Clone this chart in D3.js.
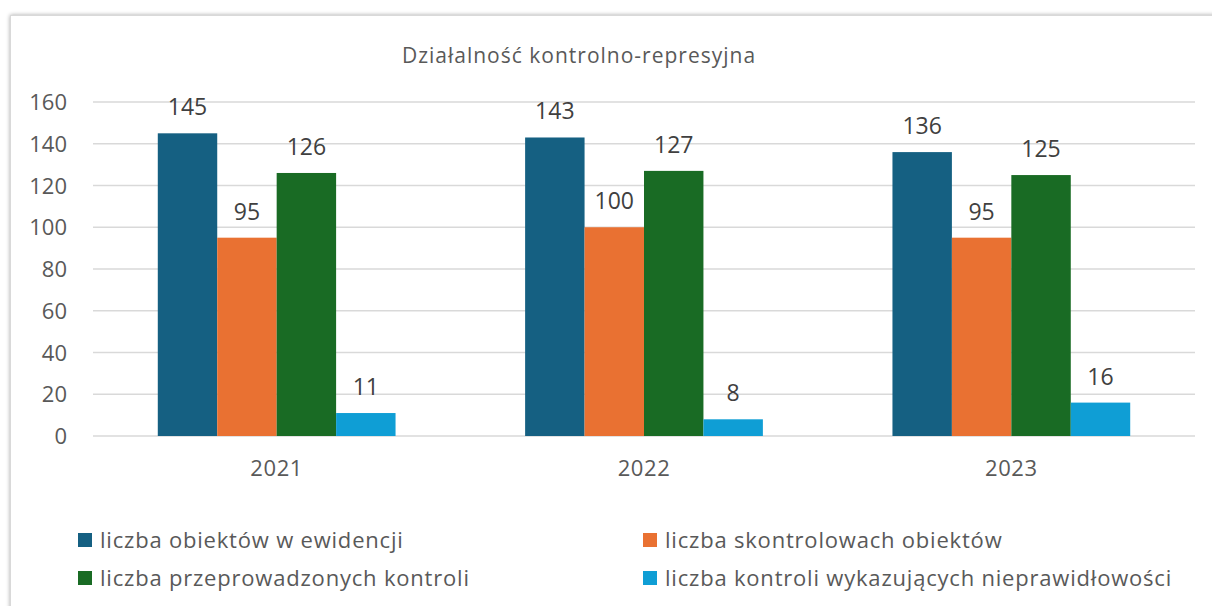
<!DOCTYPE html>
<html><head><meta charset="utf-8">
<script src="https://cdn.jsdelivr.net/npm/d3@7"></script>
<style>
html,body{margin:0;padding:0;background:#fff;}
svg{display:block;font-family:"Open Sans",sans-serif;}
</style></head>
<body>
<svg id="c" width="1212" height="606"></svg>
<script>
const title = "Działalność kontrolno-represyjna";
const years = ["2021","2022","2023"];
const seriesNames = ["liczba obiektów w ewidencji","liczba skontrolowach obiektów","liczba przeprowadzonych kontroli","liczba kontroli wykazujących nieprawidłowości"];
const obiekty = [145,143,136];
const skontrolowane = [95,100,95];
const kontrole = [126,127,125];
const nieprawidlowosci = [11,8,16];
const yTicks = [0,20,40,60,80,100,120,140,160];
const colors = ["#156082","#E97132","#196B24","#0F9ED5"];

const seriesValues = [obiekty, skontrolowane, kontrole, nieprawidlowosci];
const svg = d3.select("#c");
const FF = "'Open Sans',sans-serif";

// frame with soft shadow
const defs = svg.append("defs");
const f = defs.append("filter").attr("id","sh").attr("x","-5%").attr("y","-5%").attr("width","110%").attr("height","110%");
f.append("feGaussianBlur").attr("in","SourceAlpha").attr("stdDeviation",2);
f.append("feComponentTransfer").append("feFuncA").attr("type","linear").attr("slope",0.35);
const fm = f.append("feMerge"); fm.append("feMergeNode"); fm.append("feMergeNode").attr("in","SourceGraphic");
svg.append("rect").attr("x",10.5).attr("y",15.5).attr("width",1230).attr("height",620)
  .attr("fill","#fff").attr("stroke","#d9d9d9").attr("filter","url(#sh)");

const pLeft = 93, pRight = 1195, pTop = 102, pBottom = 436;
const y = d3.scaleLinear().domain([0,160]).range([pBottom, pTop]);
const x0 = d3.scaleBand().domain(years).range([pLeft,pRight]).paddingInner(0).paddingOuter(0);
const x1 = d3.scaleBand().domain(d3.range(4)).range([0,x0.bandwidth()]).paddingInner(0).paddingOuter(1.09);

// gridlines
svg.append("g").selectAll("line").data(yTicks).join("line")
  .attr("x1",pLeft).attr("x2",pRight).attr("y1",d=>y(d)).attr("y2",d=>y(d))
  .attr("stroke","#d9d9d9").attr("stroke-width",1.3);

// y axis labels
const yAxis = d3.axisLeft(y).tickValues(yTicks).tickSize(0).tickPadding(0);
const ga = svg.append("g").attr("transform",`translate(67,0)`).call(yAxis);
ga.select(".domain").remove();
ga.selectAll("text").attr("font-size",22).attr("fill","#595959").attr("font-family",FF).attr("dy","0.35em");

// x axis labels
const xAxis = d3.axisBottom(x0).tickSize(0).tickPadding(0);
const gx = svg.append("g").attr("transform",`translate(0,${pBottom+24})`).call(xAxis);
gx.select(".domain").remove();
gx.selectAll("text").attr("font-size",22).attr("letter-spacing",0.6).attr("fill","#595959").attr("font-family",FF);

// bars
const groups = svg.append("g").selectAll("g").data(years).join("g")
  .attr("transform",d=>`translate(${x0(d)},0)`);
groups.each(function(yr, yi){
  const g = d3.select(this);
  const vals = seriesValues.map((s,si)=>({si, v:s[yi]}));
  g.selectAll("rect").data(vals).join("rect")
    .attr("x",d=>x1(d.si)).attr("width",x1.bandwidth())
    .attr("y",d=>y(d.v)).attr("height",d=>y(0)-y(d.v))
    .attr("fill",d=>colors[d.si]);
  g.selectAll("text").data(vals).join("text")
    .attr("x",d=>x1(d.si)+x1.bandwidth()/2).attr("y",d=>y(d.v)-18)
    .attr("text-anchor","middle").attr("font-size",23).attr("fill","#404040")
    .text(d=>d.v);
});

// title
svg.append("text").attr("x",579).attr("y",63).attr("text-anchor","middle")
  .attr("font-size",21).attr("letter-spacing",1).attr("fill","#595959").text(title);

// legend
const legPos = [[78,540],[643,540],[78,578],[643,578]];
const lg = svg.append("g").selectAll("g").data(seriesNames).join("g")
  .attr("transform",(d,i)=>`translate(${legPos[i][0]},${legPos[i][1]})`);
lg.append("rect").attr("x",0).attr("y",-7).attr("width",14).attr("height",14).attr("fill",(d,i)=>colors[i]);
lg.append("text").attr("x",22).attr("y",8).attr("font-size",22).attr("letter-spacing",0.8).attr("fill","#595959").text(d=>d);
</script>
</body></html>
